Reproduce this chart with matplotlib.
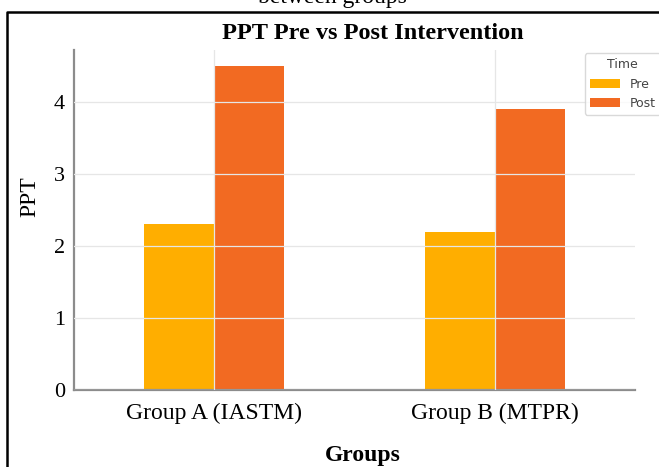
"""PPT pre vs post intervention, grouped bars."""

import matplotlib
matplotlib.use("Agg")
import matplotlib.pyplot as plt
import numpy as np
from matplotlib.lines import Line2D

groups = ["Group A (IASTM)", "Group B (MTPR)"]
times = ["Pre", "Post"]
pre_vals = [2.3, 2.2]
post_vals = [4.5, 3.9]
colors = {"Pre": "#FFAE00", "Post": "#F26A22"}

W, H = 659, 467
fig = plt.figure(figsize=(W / 100, H / 100), dpi=100)
ax = fig.add_axes([74 / W, 1 - 390 / H, (635 - 74) / W, (390 - 50) / H])

serif = "Liberation Serif"
x = np.arange(len(groups))
bw = 0.25
ax.bar(x - bw / 2, pre_vals, bw, color=colors["Pre"], label="Pre", zorder=1)
ax.bar(x + bw / 2, post_vals, bw, color=colors["Post"], label="Post", zorder=1)

ax.set_xlim(-0.5, 1.5)
ax.set_xticks(x)
ax.set_xticklabels(groups, fontfamily=serif, fontsize=17)
ax.set_yticks(range(5))
ax.set_yticklabels([str(v) for v in range(5)], fontfamily=serif, fontsize=16)
ax.tick_params(length=0)
ax.tick_params(axis="x", pad=9)
ax.tick_params(axis="y", pad=6.5)
ax.grid(True, color="#e6e6e6", lw=0.9, zorder=2)
ax.set_axisbelow(False)
for s in ("top", "right"):
    ax.spines[s].set_visible(False)
for s in ("left", "bottom"):
    ax.spines[s].set_color("#8c8c8c")
    ax.spines[s].set_linewidth(1.6)

ax.set_ylabel("PPT", fontfamily=serif, fontsize=17)
ax.yaxis.set_label_coords(-0.06, 0.57)
ax.set_xlabel("Groups", fontfamily=serif, fontsize=17, fontweight="bold")
ax.xaxis.set_label_coords(0.515, -0.163)

leg = ax.legend(title="Time", loc="upper left", bbox_to_anchor=(0.91, 0.99),
                borderaxespad=0, fontsize=9, title_fontsize=9,
                handlelength=2.4, handleheight=0.8, frameon=True)
leg.get_frame().set_edgecolor("#d0d0d0")
for t in leg.get_texts():
    t.set_color("#444444")
leg.get_title().set_color("#444444")

fig.text(373 / W, 1 - 39 / H, "PPT Pre vs Post Intervention", fontfamily=serif,
         fontsize=17.5, fontweight="bold", ha="center", va="baseline")
# caption of the page, cut off by the top edge as in the source
fig.text(332 / W, 1 - 3 / H, "between groups", fontfamily=serif,
         fontsize=17, ha="center", va="baseline")

# page frame around the chart
fx, fy = 7 / W, 1 - 12 / H
fig.add_artist(Line2D([fx, fx, 1.0], [0.0, fy, fy], transform=fig.transFigure,
                      color="black", lw=1.8))

fig.savefig("out.png", dpi=100)
